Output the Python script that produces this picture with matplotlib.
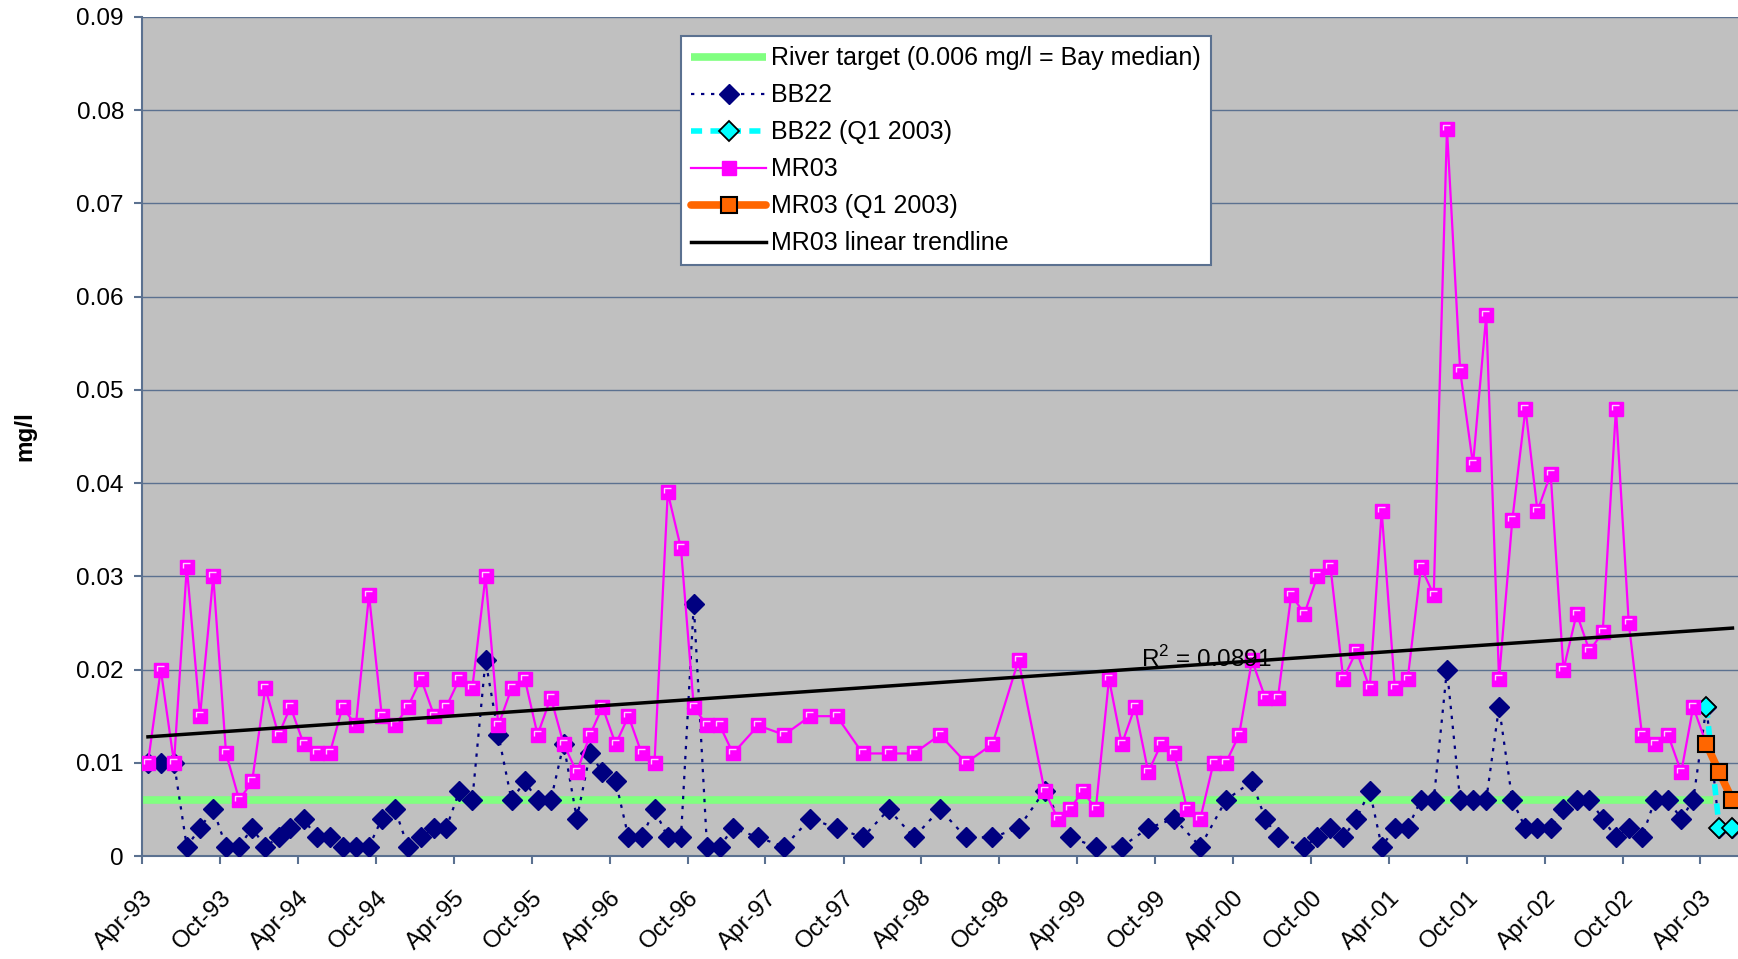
import numpy as np
import pandas as pd
import matplotlib
matplotlib.use('Agg')
import matplotlib.pyplot as plt
import matplotlib.dates as mdates
from matplotlib.path import Path

plt.rcParams['font.family'] = ['Liberation Sans', 'DejaVu Sans']
plt.rcParams['mathtext.fontset'] = 'custom'
plt.rcParams['mathtext.rm'] = 'Liberation Sans'

# month offsets from Apr-93 (samples taken mid-month)
mr03_months = list(range(0, 46)) + list(range(47, 70, 2)) + list(range(70, 120))
mr03_vals = [0.010, 0.020, 0.010, 0.031, 0.015, 0.030, 0.011, 0.006, 0.008, 0.018,
             0.013, 0.016, 0.012, 0.011, 0.011, 0.016, 0.014, 0.028, 0.015, 0.014,
             0.016, 0.019, 0.015, 0.016, 0.019, 0.018, 0.030, 0.014, 0.018, 0.019,
             0.013, 0.017, 0.012, 0.009, 0.013, 0.016, 0.012, 0.015, 0.011, 0.010,
             0.039, 0.033, 0.016, 0.014, 0.014, 0.011,
             0.014, 0.013, 0.015, 0.015, 0.011, 0.011, 0.011, 0.013, 0.010, 0.012,
             0.021, 0.007,
             0.004, 0.005, 0.007, 0.005, 0.019, 0.012, 0.016, 0.009, 0.012, 0.011,
             0.005, 0.004, 0.010, 0.010, 0.013, 0.021, 0.017, 0.017, 0.028, 0.026,
             0.030, 0.031, 0.019, 0.022, 0.018, 0.037, 0.018, 0.019, 0.031, 0.028,
             0.078, 0.052, 0.042, 0.058, 0.019, 0.036, 0.048, 0.037, 0.041, 0.020,
             0.026, 0.022, 0.024, 0.048, 0.025, 0.013, 0.012, 0.013, 0.009, 0.016]

bb22_months = (list(range(0, 46)) + list(range(47, 70, 2)) + list(range(71, 84, 2))
               + [85, 86, 87] + list(range(89, 120)))
bb22_vals = [0.010, 0.010, 0.010, 0.001, 0.003, 0.005, 0.001, 0.001, 0.003, 0.001,
             0.002, 0.003, 0.004, 0.002, 0.002, 0.001, 0.001, 0.001, 0.004, 0.005,
             0.001, 0.002, 0.003, 0.003, 0.007, 0.006, 0.021, 0.013, 0.006, 0.008,
             0.006, 0.006, 0.012, 0.004, 0.011, 0.009, 0.008, 0.002, 0.002, 0.005,
             0.002, 0.002, 0.027, 0.001, 0.001, 0.003,
             0.002, 0.001, 0.004, 0.003, 0.002, 0.005, 0.002, 0.005, 0.002, 0.002,
             0.003, 0.007,
             0.002, 0.001, 0.001, 0.003, 0.004, 0.001, 0.006,
             0.008, 0.004, 0.002,
             0.001, 0.002, 0.003, 0.002, 0.004, 0.007, 0.001, 0.003, 0.003, 0.006,
             0.006, 0.020, 0.006, 0.006, 0.006, 0.016, 0.006, 0.003, 0.003, 0.003,
             0.005, 0.006, 0.006, 0.004, 0.002, 0.003, 0.002, 0.006, 0.006, 0.004,
             0.006]

q1_months = [120, 121, 122]
mr03_q1 = [0.012, 0.009, 0.006]
bb22_q1 = [0.016, 0.003, 0.003]

target_value = 0.006
target_dates = pd.to_datetime(['1993-04-01', '2003-05-01'])


def to_dates(months):
    return [pd.Timestamp('1993-04-15') + pd.DateOffset(months=m) for m in months]


mr03_d = to_dates(mr03_months)
bb22_d = to_dates(bb22_months)
q1_d = to_dates(q1_months)

# full series include the Q1 2003 points (highlighted on top)
mr03_all_d = mr03_d + q1_d
mr03_all_v = mr03_vals + mr03_q1
bb22_all_d = bb22_d + q1_d
bb22_all_v = bb22_vals + bb22_q1

# linear trendline on MR03
xn = mdates.date2num(mr03_all_d)
coef = np.polyfit(xn, mr03_all_v, 1)
trend_x = np.array([xn[0], xn[-1]])

slate = '#5b7190'
fs = 17.5

# little white highlight inside the Excel style square markers
corner = Path([(-0.6, -0.15), (-0.6, 0.6), (0.35, 0.6)],
              [Path.MOVETO, Path.LINETO, Path.LINETO])

fig = plt.figure(figsize=(17.38, 9.59), dpi=100)
ax = fig.add_axes([0.0817, 0.1074, 0.9183, 0.8749])
ax.set_facecolor('#c0c0c0')

ax.plot(target_dates, [target_value, target_value], color='#80ff80', lw=5.5,
        solid_capstyle='butt', label='River target (0.006 mg/l = Bay median)', zorder=2)
ax.plot(bb22_all_d, bb22_all_v, color='#000080', ls=(0, (1.5, 3)), lw=1.6,
        marker='D', ms=10, mfc='#000080', mec='#000080', label='BB22', zorder=3)
ax.plot(q1_d, bb22_q1, color='#00ffff', ls=(0, (2, 1.5)), lw=4,
        marker='D', ms=10, mfc='#00ffff', mec='black', mew=1.3, label='BB22 (Q1 2003)', zorder=4)
ax.plot(mr03_all_d, mr03_all_v, color='#ff00ff', lw=1.6,
        marker='s', ms=9.5, mfc='#ff00ff', mec='#ff00ff', label='MR03', zorder=5)
ax.plot(mr03_d, mr03_vals, ls='none', marker=corner, ms=6.2, mfc='none',
        mec='#ffd0ff', mew=1.0, zorder=5.5)
ax.plot(q1_d, mr03_q1, color='#ff6600', lw=5.5, solid_capstyle='round',
        marker='s', ms=11, mfc='#ff6600', mec='black', mew=1.5, label='MR03 (Q1 2003)', zorder=6)
ax.plot(mdates.num2date(trend_x), np.polyval(coef, trend_x), color='black', lw=2.5,
        label='MR03 linear trendline', zorder=7)

ax.text(0.626, 0.225, 'R$^2$ = 0.0891', transform=ax.transAxes, fontsize=fs, zorder=8)

ax.set_ylim(0, 0.09)
ax.set_yticks(np.arange(0, 0.091, 0.01))
ax.yaxis.set_major_formatter(plt.FuncFormatter(lambda v, p: f'{v:g}'))
ax.set_xlim(pd.Timestamp('1993-04-01'), pd.Timestamp('2003-06-28'))
ax.set_xticks(pd.date_range('1993-04-01', '2003-04-01', freq='6MS'))
ax.xaxis.set_major_formatter(mdates.DateFormatter('%b-%y'))
plt.setp(ax.get_xticklabels(), rotation=45, ha='right', rotation_mode='anchor')

ax.grid(axis='y', color=slate, lw=1)
ax.set_axisbelow(True)
for s in ['top', 'right']:
    ax.spines[s].set_visible(False)
for s in ['left', 'bottom']:
    ax.spines[s].set_color(slate)
    ax.spines[s].set_linewidth(1.5)
ax.tick_params(axis='both', colors=slate, labelcolor='black', labelsize=fs,
               direction='out', length=6, width=1.5)
ax.tick_params(axis='x', pad=16)
ax.tick_params(axis='y', pad=7)

ax.set_ylabel('mg/l', fontsize=fs, fontweight='bold')
ax.yaxis.set_label_coords(-0.066, 0.5)

leg = ax.legend(loc='upper left', bbox_to_anchor=(0.338, 0.977), fontsize=18,
                frameon=True, fancybox=False, framealpha=1, edgecolor=slate,
                handlelength=3.0, handletextpad=0.2, labelspacing=0.52,
                borderpad=0.4, borderaxespad=0)
leg.get_frame().set_linewidth(1.5)

fig.savefig('out.png', dpi=100)
